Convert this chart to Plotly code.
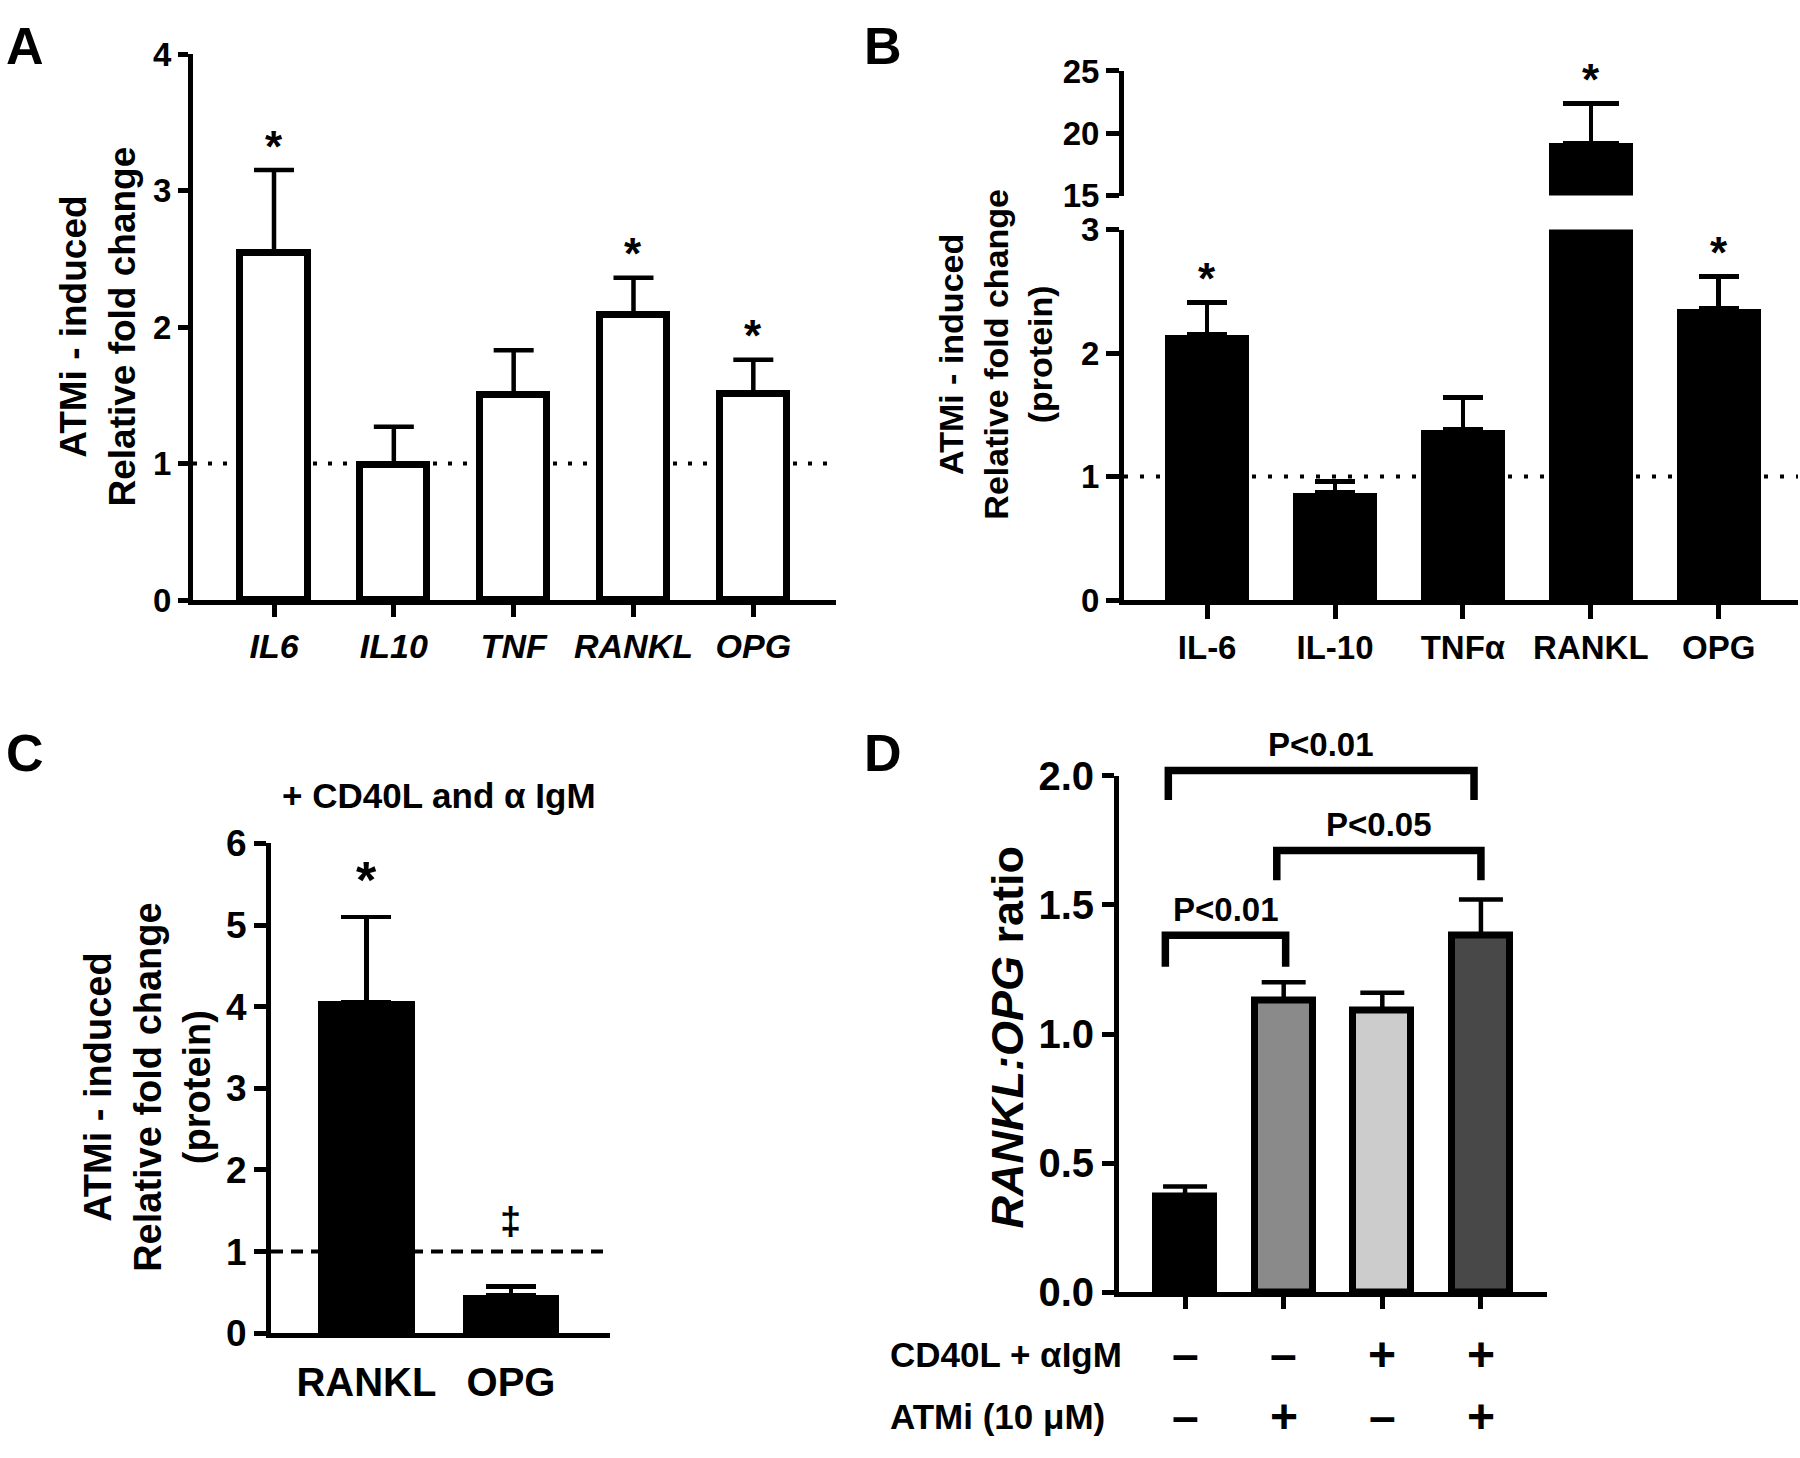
import plotly.graph_objects as go

FONT = "Liberation Sans, Arial, sans-serif"
W, H = 1800, 1458

# ---------------- data ----------------
# Panel A (mRNA, white bars)
a_genes = ["IL6", "IL10", "TNF", "RANKL", "OPG"]
a_mean = [2.54, 0.99, 1.50, 2.09, 1.51]
a_err = [0.61, 0.28, 0.33, 0.27, 0.25]
a_sig = ["*", "", "", "*", "*"]

# Panel B (protein, broken axis)
b_proteins = ["IL-6", "IL-10", "TNFα", "RANKL", "OPG"]
b_mean = [2.15, 0.87, 1.38, 19.2, 2.36]
b_err = [0.26, 0.09, 0.26, 3.2, 0.26]
b_sig = ["*", "", "", "*", "*"]
b_lower_range = [0, 3]
b_upper_range = [15, 25]

# Panel C (+ CD40L and aIgM)
c_proteins = ["RANKL", "OPG"]
c_mean = [4.06, 0.46]
c_err = [1.04, 0.11]
c_sig = ["*", "‡"]

# Panel D (RANKL:OPG ratio)
d_mean = [0.37, 1.13, 1.09, 1.38]
d_err = [0.04, 0.07, 0.07, 0.14]
d_colors = ["#000000", "#8a8a8a", "#cccccc", "#484848"]
d_cd40l = ["–", "–", "+", "+"]
d_atmi = ["–", "+", "–", "+"]
d_range = [0, 2]
# comparisons: left x, right x, bracket height, leg bottom, label
d_comp_left = [-0.17, 0.93, -0.20]
d_comp_right = [2.93, 3.00, 1.02]
d_comp_top = [2.02, 1.71, 1.382]
d_comp_leg = [1.905, 1.595, 1.26]
d_comp_label = ["P<0.01", "P<0.05", "P<0.01"]


# ---------------- helpers (layout only) ----------------
def dx(p0, p1):
    return [p0 / W, p1 / W]


def dy(top, bottom):
    return [1 - bottom / H, 1 - top / H]


def px(x):
    return x / W


def py(y):
    return 1 - y / H


def tf(size):
    return dict(family=FONT, size=size, color="black", weight="bold")


LW = 5


def yax(domain, rng, tickvals, size, ticklen, anchor, ticktext=None):
    d = dict(domain=domain, range=rng, tickvals=tickvals, showline=True, linecolor="black",
             linewidth=LW, ticks="outside", ticklen=ticklen, tickwidth=LW, tickcolor="black",
             showgrid=False, zeroline=False, tickfont=tf(size), anchor=anchor, fixedrange=True)
    if ticktext is not None:
        d["ticktext"] = ticktext
    return d


def xax(domain, rng, n, ticktext, size, ticklen, anchor, tickcolor="black", showlabels=True):
    return dict(domain=domain, range=rng, tickvals=list(range(n)), ticktext=ticktext,
                showline=True, linecolor="black", linewidth=LW, ticks="outside", ticklen=ticklen,
                tickwidth=LW, tickcolor=tickcolor, showgrid=False, zeroline=False,
                tickfont=tf(size), anchor=anchor, showticklabels=showlabels, fixedrange=True)


fig = go.Figure()
annotations = []
shapes = []

# ---------------- Panel A ----------------
ia = list(range(len(a_genes)))
fig.add_trace(go.Bar(
    x=ia, y=a_mean, width=0.56, xaxis="x", yaxis="y",
    marker=dict(color="white", line=dict(color="black", width=7)),
    error_y=dict(type="data", symmetric=False, array=a_err, arrayminus=[0] * len(a_err),
                 color="black", thickness=4.5, width=20),
    showlegend=False, hoverinfo="skip"))
for i, s in enumerate(a_sig):
    if s:
        annotations.append(dict(x=i, y=a_mean[i] + a_err[i], xref="x", yref="y", text=s,
                                showarrow=False, font=tf(44), yanchor="middle", yshift=24))
shapes.append(dict(type="line", xref="x domain", x0=0, x1=1, yref="y", y0=1, y1=1,
                   line=dict(color="black", width=4, dash="4px,11px"), layer="below"))

# ---------------- Panel B ----------------
ib = list(range(len(b_proteins)))
b_low_err = [e if m <= b_lower_range[1] else 0 for m, e in zip(b_mean, b_err)]
fig.add_trace(go.Bar(
    x=ib, y=b_mean, width=0.66, xaxis="x2", yaxis="y2",
    marker=dict(color="black", line=dict(width=0)),
    error_y=dict(type="data", symmetric=False, array=b_low_err, arrayminus=[0] * len(b_err),
                 color="black", thickness=4.5, width=20),
    showlegend=False, hoverinfo="skip"))
up_idx = [i for i, m in enumerate(b_mean) if m > b_upper_range[0]]
fig.add_trace(go.Bar(
    x=up_idx, y=[b_mean[i] for i in up_idx], width=0.66, xaxis="x3", yaxis="y3",
    marker=dict(color="black", line=dict(width=0)),
    error_y=dict(type="data", symmetric=False, array=[b_err[i] for i in up_idx],
                 arrayminus=[0] * len(up_idx), color="black", thickness=4.5, width=28),
    showlegend=False, hoverinfo="skip"))
for i, s in enumerate(b_sig):
    if s:
        upper = b_mean[i] > b_upper_range[0]
        annotations.append(dict(x=i, y=b_mean[i] + b_err[i], xref="x3" if upper else "x2",
                                yref="y3" if upper else "y2", text=s, showarrow=False,
                                font=tf(44), yanchor="middle", yshift=24))
shapes.append(dict(type="line", xref="x2 domain", x0=0, x1=1, yref="y2", y0=1, y1=1,
                   line=dict(color="black", width=4, dash="4px,12px"), layer="below"))

# ---------------- Panel C ----------------
ic = list(range(len(c_proteins)))
fig.add_trace(go.Bar(
    x=ic, y=c_mean, width=0.67, xaxis="x4", yaxis="y4",
    marker=dict(color="black", line=dict(width=0)),
    error_y=dict(type="data", symmetric=False, array=c_err, arrayminus=[0] * len(c_err),
                 color="black", thickness=4.5, width=25),
    showlegend=False, hoverinfo="skip"))
sig_style = {"*": (52, 37), "‡": (38, 66)}
for i, s in enumerate(c_sig):
    size, shift = sig_style[s]
    annotations.append(dict(x=i, y=c_mean[i] + c_err[i], xref="x4", yref="y4", text=s,
                            showarrow=False, font=tf(size), yanchor="middle", yshift=shift))
shapes.append(dict(type="line", xref="x4 domain", x0=0, x1=1, yref="y4", y0=1, y1=1,
                   line=dict(color="black", width=4, dash="12px,8px"), layer="below"))

# ---------------- Panel D ----------------
idd = list(range(len(d_mean)))
fig.add_trace(go.Bar(
    x=idd, y=d_mean, width=0.59, xaxis="x5", yaxis="y5",
    marker=dict(color=d_colors, line=dict(color="black", width=7)),
    error_y=dict(type="data", symmetric=False, array=d_err, arrayminus=[0] * len(d_err),
                 color="black", thickness=4.5, width=22),
    showlegend=False, hoverinfo="skip"))
# invisible companion axis (same scale as y5, taller) so brackets above 2.0 are not clipped
D_TOP, D_BOT, D_EXT_TOP = 777, 1310, 720
fig.add_trace(go.Scatter(x=[0, 0], y=[0, 0], xaxis="x5", yaxis="y6", mode="lines",
                         line=dict(width=0, color="rgba(0,0,0,0)"), showlegend=False,
                         hoverinfo="skip"))
for x0, x1, yt, yl, lab in zip(d_comp_left, d_comp_right, d_comp_top, d_comp_leg, d_comp_label):
    shapes.append(dict(type="path", xref="x5", yref="y6",
                       path=f"M {x0},{yl} L {x0},{yt} L {x1},{yt} L {x1},{yl}",
                       line=dict(color="black", width=7.5)))
    annotations.append(dict(x=(x0 + x1) / 2, y=yt, xref="x5", yref="y6", text=lab,
                            showarrow=False, font=tf(33), yanchor="middle", yshift=26))
for i in idd:
    annotations.append(dict(x=i, y=py(1374), xref="x5", yref="paper", text=d_cd40l[i],
                            showarrow=False, font=tf(48), yanchor="middle"))
    annotations.append(dict(x=i, y=py(1438), xref="x5", yref="paper", text=d_atmi[i],
                            showarrow=False, font=tf(48), yanchor="middle"))
annotations.append(dict(x=px(888), y=py(1374), xref="paper", yref="paper", text="CD40L + αIgM",
                        showarrow=False, font=tf(35), xanchor="left", yanchor="middle"))
annotations.append(dict(x=px(888), y=py(1438), xref="paper", yref="paper", text="ATMi (10 μM)",
                        showarrow=False, font=tf(35), xanchor="left", yanchor="middle"))

# ---------------- titles & panel letters ----------------
title_specs = [
    ("ATMi - induced<br>Relative fold change", 98, 314, 37),
    ("ATMi - induced<br>Relative fold change<br>(protein)", 995, 343, 34),
    ("ATMi - induced<br>Relative fold change<br>(protein)", 148, 1098, 38),
    ("<i>RANKL:OPG</i> ratio", 1007, 1046, 45),
]
for text, x, y, size in title_specs:
    annotations.append(dict(x=px(x), y=py(y), xref="paper", yref="paper", text=text,
                            textangle=-90, showarrow=False, font=tf(size),
                            xanchor="center", yanchor="middle"))
annotations.append(dict(x=px(439), y=py(798), xref="paper", yref="paper",
                        text="+ CD40L and α IgM", showarrow=False, font=tf(35),
                        xanchor="center", yanchor="middle"))
for letter, x, y in [("A", 4, 25), ("B", 862, 25), ("C", 4, 754), ("D", 862, 754)]:
    annotations.append(dict(x=px(x), y=py(y), xref="paper", yref="paper", text=letter,
                            showarrow=False, font=tf(52), xanchor="left", yanchor="middle"))

layout = dict(
    width=W, height=H, margin=dict(l=0, r=0, t=0, b=0),
    paper_bgcolor="white", plot_bgcolor="rgba(0,0,0,0)", showlegend=False, bargap=0,
    # A
    xaxis=xax(dx(193, 836), [-0.676, 4.69], 5, [f"<i>{g}</i>" for g in a_genes], 34, 12, "y"),
    yaxis=yax(dy(33, 596), [0, 4], [0, 1, 2, 3, 4], 33, 10, "x"),
    # B lower
    xaxis2=xax(dx(1124, 1798), [-0.65, 4.62], 5, b_proteins, 33, 14, "y2"),
    yaxis2=yax(dy(214, 596), b_lower_range, [0, 1, 2, 3], 33, 13, "x2"),
    # B upper
    xaxis3=dict(domain=dx(1124, 1798), range=[-0.65, 4.62], visible=False, anchor="y3",
                fixedrange=True),
    yaxis3=yax(dy(50.5, 179), b_upper_range, [15, 20, 25], 33, 13, "x3"),
    # C
    xaxis4=xax(dx(271, 610), [-0.66, 1.685], 2, c_proteins, 40, 10, "y4",
               tickcolor="rgba(0,0,0,0)"),
    yaxis4=yax(dy(847, 1352), [0, 6], [0, 1, 2, 3, 4, 5, 6], 37, 12, "x4"),
    # D
    xaxis5=xax(dx(1119, 1547), [-0.67, 3.67], 4, ["", "", "", ""], 30, 12, "y5",
               showlabels=False),
    yaxis5=yax(dy(D_TOP, D_BOT), d_range, [0, 0.5, 1.0, 1.5, 2.0], 40, 12, "x5",
               ticktext=["0.0", "0.5", "1.0", "1.5", "2.0"]),
    yaxis6=dict(domain=dy(D_EXT_TOP, D_BOT),
                range=[d_range[0], d_range[1] * (D_BOT - D_EXT_TOP) / (D_BOT - D_TOP)],
                visible=False, anchor="x5", fixedrange=True),
    annotations=annotations,
    shapes=shapes,
)
fig.update_layout(**layout)

fig.write_html("out.html", post_script="document.body.style.margin='0';",
               config={"displayModeBar": False})
